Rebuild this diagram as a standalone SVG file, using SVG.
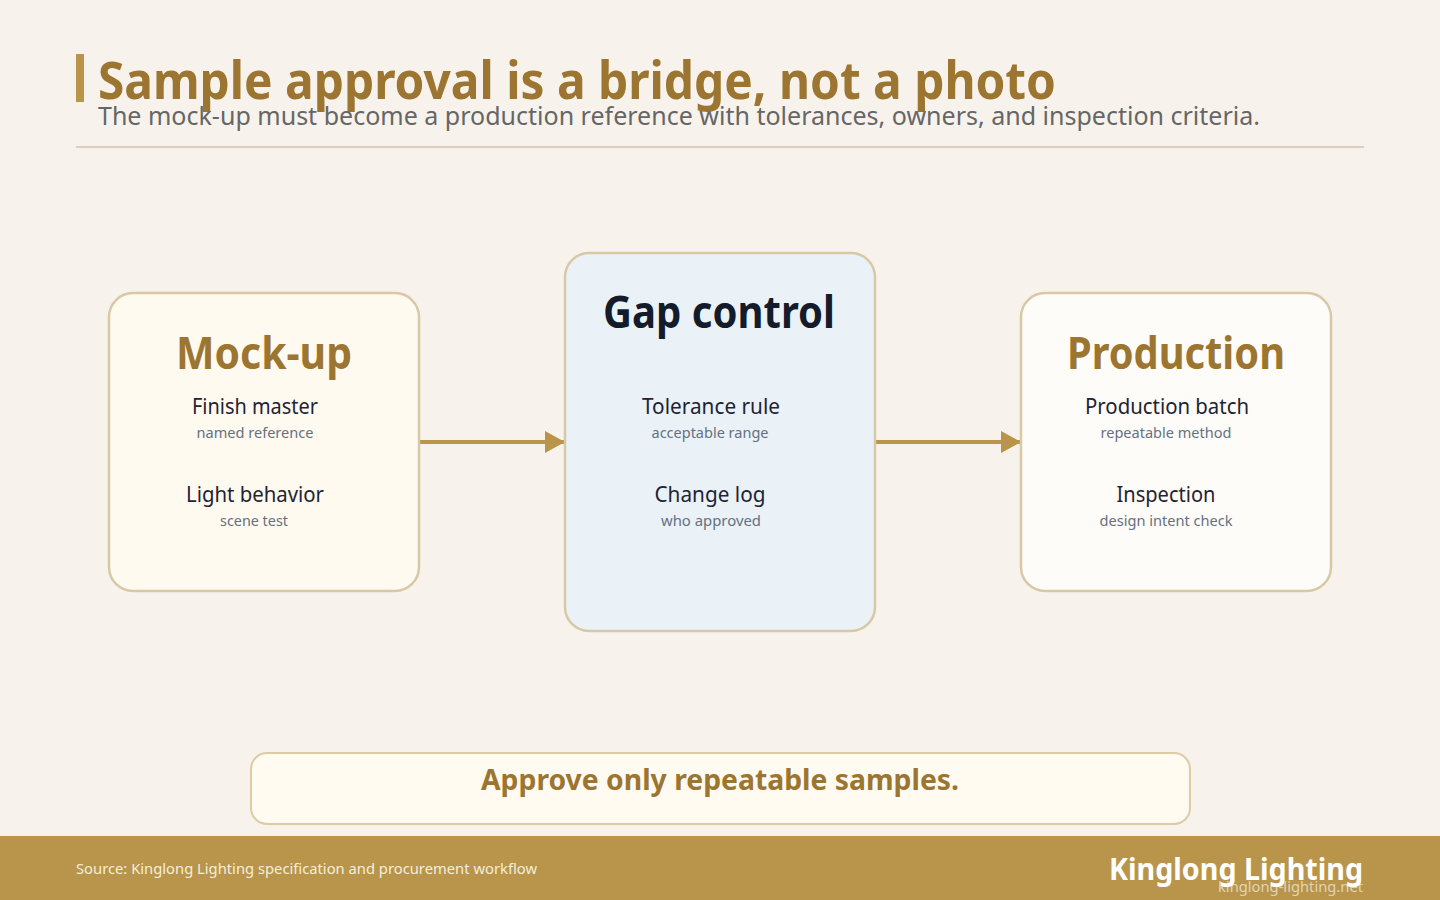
<svg xmlns="http://www.w3.org/2000/svg" width="1440" height="900" viewBox="0 0 1440 900">
<defs>
<style>
text{font-family:"Noto Sans","Open Sans","DejaVu Sans",sans-serif}
.node{stroke:#D8C8A5;stroke-width:2.5}
.ntitle{font-weight:700;font-size:44px;text-anchor:middle}
.item{font-size:22px;fill:#1F2333;text-anchor:middle}
.sub{font-size:15px;fill:#667080;text-anchor:middle}
.conn{stroke:#B8954A;stroke-width:4;fill:none}
</style>
<marker id="arr" markerUnits="userSpaceOnUse" markerWidth="20" markerHeight="22" refX="20" refY="11" orient="auto">
<path d="M0,0 L20,11 L0,22 Z" fill="#B8954A"/>
</marker>
</defs>
<rect width="1440" height="900" fill="#F7F3EC"/>
<g id="header">
<rect x="76" y="54" width="8" height="48" fill="#B8954A"/>
<text x="98" y="99" font-size="52" font-weight="700" fill="#9C7630" textLength="958" lengthAdjust="spacingAndGlyphs">Sample approval is a bridge, not a photo</text>
<text x="98" y="125" font-size="26" fill="#666666" textLength="1162" lengthAdjust="spacingAndGlyphs">The mock-up must become a production reference with tolerances, owners, and inspection criteria.</text>
<line x1="76" y1="147" x2="1364" y2="147" stroke="#DDD0BA" stroke-width="2"/>
</g>
<g id="connectors">
<line class="conn" x1="420" y1="442" x2="565" y2="442" marker-end="url(#arr)"/>
<line class="conn" x1="876" y1="442" x2="1021" y2="442" marker-end="url(#arr)"/>
</g>
<g id="mockup">
<rect class="node" x="109" y="293" width="310" height="298" rx="24" fill="#FFFAF0"/>
<text class="ntitle" x="264" y="369" fill="#9C7630" textLength="176" lengthAdjust="spacingAndGlyphs">Mock-up</text>
<text class="item" x="255" y="414" textLength="126" lengthAdjust="spacingAndGlyphs">Finish master</text>
<text class="sub" x="255" y="438" textLength="117" lengthAdjust="spacingAndGlyphs">named reference</text>
<text class="item" x="255" y="502" textLength="138" lengthAdjust="spacingAndGlyphs">Light behavior</text>
<text class="sub" x="254" y="526" textLength="68" lengthAdjust="spacingAndGlyphs">scene test</text>
</g>
<g id="gap">
<rect class="node" x="565" y="253" width="310" height="378" rx="24" fill="#EAF2F8"/>
<text class="ntitle" x="719" y="328" fill="#141B2B" textLength="232" lengthAdjust="spacingAndGlyphs">Gap control</text>
<text class="item" x="711" y="414" textLength="138" lengthAdjust="spacingAndGlyphs">Tolerance rule</text>
<text class="sub" x="710" y="438" textLength="117" lengthAdjust="spacingAndGlyphs">acceptable range</text>
<text class="item" x="710" y="502" textLength="111" lengthAdjust="spacingAndGlyphs">Change log</text>
<text class="sub" x="711" y="526" textLength="100" lengthAdjust="spacingAndGlyphs">who approved</text>
</g>
<g id="production">
<rect class="node" x="1021" y="293" width="310" height="298" rx="24" fill="#FEFCF8"/>
<text class="ntitle" x="1176" y="369" fill="#9C7630" textLength="218" lengthAdjust="spacingAndGlyphs">Production</text>
<text class="item" x="1167" y="414" textLength="164" lengthAdjust="spacingAndGlyphs">Production batch</text>
<text class="sub" x="1166" y="438" textLength="131" lengthAdjust="spacingAndGlyphs">repeatable method</text>
<text class="item" x="1166" y="502" textLength="99" lengthAdjust="spacingAndGlyphs">Inspection</text>
<text class="sub" x="1166" y="526" textLength="133" lengthAdjust="spacingAndGlyphs">design intent check</text>
</g>
<g id="callout">
<rect x="251" y="753" width="939" height="71" rx="16" fill="#FFFBF1" stroke="#DCCBA5" stroke-width="2"/>
<text x="720" y="790" font-size="29" font-weight="700" fill="#9C7630" text-anchor="middle" textLength="478" lengthAdjust="spacingAndGlyphs">Approve only repeatable samples.</text>
</g>
<g id="footer">
<rect x="0" y="836" width="1440" height="64" fill="#B8954A"/>
<text x="76" y="874" font-size="15" fill="#F5EEDC" textLength="461" lengthAdjust="spacingAndGlyphs">Source: Kinglong Lighting specification and procurement workflow</text>
<text x="1363" y="880" font-size="30" font-weight="700" fill="#FFFFFF" text-anchor="end" textLength="254" lengthAdjust="spacingAndGlyphs">Kinglong Lighting</text>
<text x="1363" y="892" font-size="15" fill="#FFFFFF" fill-opacity="0.6" text-anchor="end" textLength="145" lengthAdjust="spacingAndGlyphs">kinglong-lighting.net</text>
</g>
</svg>
